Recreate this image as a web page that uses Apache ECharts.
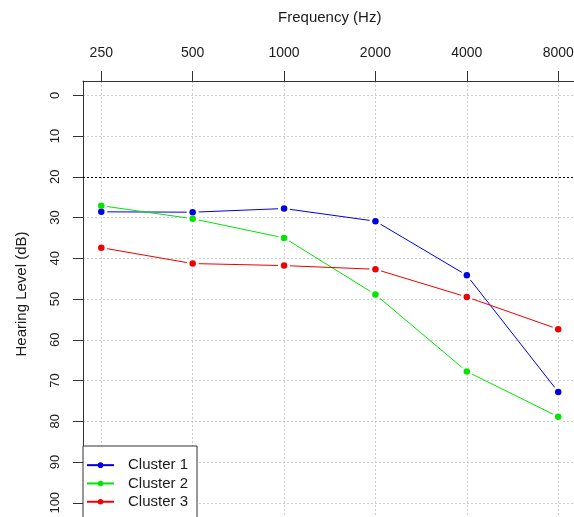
<!DOCTYPE html>
<html>
<head>
<meta charset="utf-8">
<script src="https://cdn.jsdelivr.net/npm/echarts@6/dist/echarts.min.js"></script>
<style>
  html, body { margin: 0; padding: 0; background: #ffffff; }
  #chart { width: 574px; height: 517px; }
</style>
</head>
<body>
<div id="chart"></div>
<script>
// Audiogram: mean hearing thresholds per cluster
const frequencies = ['250', '500', '1000', '2000', '4000', '8000'];
const clusterNames = ['Cluster 1', 'Cluster 2', 'Cluster 3'];
const cluster1 = [28.6, 28.7, 27.8, 30.9, 44.2, 72.8];
const cluster2 = [27.1, 30.3, 35.0, 48.9, 67.8, 78.9];
const cluster3 = [37.4, 41.3, 41.8, 42.7, 49.5, 57.4];
const levelTicks = [0, 10, 20, 30, 40, 50, 60, 70, 80, 90, 100, 110];
const normalLimit = 20;

const FONT = '"Liberation Sans", Arial, sans-serif';
const colors = ['#0000e6', '#00e600', '#f00000'];
const clusters = [cluster1, cluster2, cluster3];
const freqIndex = frequencies.map((f, i) => i);

const toPoints = vals => vals.map((v, i) => [i, v]);

const series = [];
// connecting lines
clusters.forEach((vals, k) => {
  series.push({
    name: clusterNames[k],
    type: 'line',
    data: toPoints(vals),
    symbol: 'circle',
    showSymbol: false,
    color: colors[k],
    lineStyle: { width: 1, color: colors[k] },
    z: 2,
    silent: true,
    markLine: k === 0 ? {
      silent: true,
      symbol: 'none',
      label: { show: false },
      lineStyle: { color: '#000', type: [2, 2], width: 1.2 },
      data: [{ yAxis: normalLimit }]
    } : undefined
  });
});
// white gap around each point, like a "both" plot
series.push({
  name: 'gap',
  type: 'scatter',
  data: clusters.flatMap(toPoints),
  symbol: 'circle',
  symbolSize: 12,
  itemStyle: { color: '#ffffff', opacity: 1 },
  z: 3,
  silent: true
});
// points
clusters.forEach((vals, k) => {
  series.push({
    name: clusterNames[k] + ' pts',
    type: 'scatter',
    data: toPoints(vals),
    symbol: 'circle',
    symbolSize: 6.5,
    itemStyle: { color: colors[k], opacity: 1 },
    z: 4,
    silent: true
  });
});

const chart = echarts.init(document.getElementById('chart'), null, { renderer: 'canvas' });
chart.setOption({
  animation: false,
  backgroundColor: '#ffffff',
  textStyle: { fontFamily: FONT },
  grid: { left: 83, top: 81, width: 493.5, height: 462.5, containLabel: false, outerBoundsMode: 'none' },
  xAxis: {
    type: 'value',
    position: 'top',
    min: -0.2,
    max: 5.2,
    name: 'Frequency (Hz)',
    nameLocation: 'middle',
    nameGap: 56,
    nameTextStyle: { fontSize: 15, color: '#1a1a1a', fontFamily: FONT },
    axisLine: { show: true, onZero: false, lineStyle: { color: '#333', width: 1 } },
    axisTick: { show: true, length: 10, inside: false, customValues: freqIndex, lineStyle: { color: '#333' } },
    axisLabel: {
      customValues: freqIndex,
      formatter: v => frequencies[Math.round(v)],
      fontSize: 14, color: '#1a1a1a', margin: 21, fontFamily: FONT
    },
    splitLine: { show: true, lineStyle: { color: '#cccccc', type: [2, 2], width: 1 } }
  },
  yAxis: {
    type: 'value',
    inverse: true,
    min: -3.5,
    max: 110,
    axisLine: { show: true, onZero: false, lineStyle: { color: '#333', width: 1 } },
    axisTick: { show: true, length: 10, inside: false, customValues: levelTicks, lineStyle: { color: '#333' } },
    axisLabel: {
      customValues: levelTicks,
      rotate: 90,
      fontSize: 13, color: '#1a1a1a', margin: 21, fontFamily: FONT
    },
    splitLine: { show: true, lineStyle: { color: '#cccccc', type: [2, 2], width: 1 } }
  },
  legend: {
    data: clusterNames,
    orient: 'vertical',
    left: 83,
    top: 446,
    height: 120,
    itemWidth: 27,
    itemHeight: 7,
    itemGap: 0,
    padding: [10, 9, 14, 3],
    backgroundColor: '#ffffff',
    borderColor: '#333',
    borderWidth: 1,
    borderRadius: 0,
    selectedMode: false,
    textStyle: { fontSize: 15, lineHeight: 18.3, color: '#1a1a1a', fontFamily: FONT, padding: [0, 0, 0, 9] }
  },
  graphic: [{
    type: 'text',
    x: 21.5,
    y: 294,
    rotation: Math.PI / 2,
    style: {
      text: 'Hearing Level (dB)',
      font: '15px ' + FONT,
      fill: '#1a1a1a',
      textAlign: 'center',
      textVerticalAlign: 'middle'
    }
  }],
  series: series
});
</script>
</body>
</html>
